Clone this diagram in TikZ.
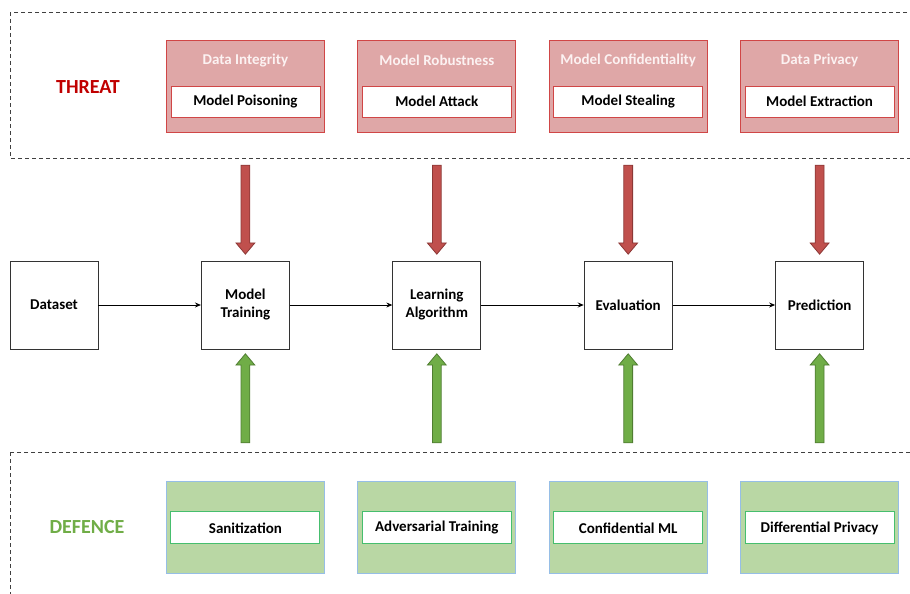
\documentclass[tikz,border=0pt]{standalone}
\usepackage{fontspec}
\setmainfont{Carlito}
\usepackage{tikz}
\usetikzlibrary{positioning, shapes.arrows, arrows.meta}

\definecolor{threatred}{RGB}{192,0,0}
\definecolor{threatfill}{RGB}{223,167,167}
\definecolor{threatline}{RGB}{208,70,70}
\definecolor{threathead}{RGB}{252,242,242}
\definecolor{arrowred}{RGB}{192,80,77}
\definecolor{arrowredline}{RGB}{140,56,54}
\definecolor{defgreen}{RGB}{112,173,71}
\definecolor{deffill}{RGB}{185,215,164}
\definecolor{defline}{RGB}{150,190,230}
\definecolor{definline}{RGB}{70,190,110}
\definecolor{arrowgreenline}{RGB}{80,125,50}

\tikzset{
  x=1pt, y=1pt,
  node distance=102.5pt,
  every node/.style={font=\fontsize{15}{18}\selectfont\bfseries},
  stage/.style={draw=black!80, line width=0.9pt, minimum width=88pt, minimum height=88pt, align=center},
  flow/.style={-{Stealth[length=6pt,width=5pt]}, line width=0.9pt},
  zone/.style={draw=black!75, line width=0.8pt, dash pattern=on 4pt off 3pt},
  title/.style={font=\fontsize{20}{22}\selectfont\bfseries},
  threatbox/.style={draw=threatline, fill=threatfill, line width=0.9pt, minimum width=158pt, minimum height=92pt},
  threatinner/.style={draw=threatline, fill=white, line width=0.8pt, minimum width=149pt, minimum height=31pt},
  defbox/.style={draw=defline, fill=deffill, line width=0.9pt, minimum width=158pt, minimum height=92pt},
  definner/.style={draw=definline, fill=white, line width=0.9pt, minimum width=149pt, minimum height=32pt},
  blockarrow/.style={single arrow, inner sep=4pt, single arrow head extend=5pt, single arrow tip angle=80, minimum height=89pt, line width=0.8pt},
  attackarrow/.style={blockarrow, draw=arrowredline, fill=arrowred, shape border rotate=270},
  defendarrow/.style={blockarrow, draw=arrowgreenline, fill=defgreen, shape border rotate=90},
}

\begin{document}
\begin{tikzpicture}
  \useasboundingbox (0,0) rectangle (910,-594);

  % zones
  \draw[zone] (10,-12) rectangle (925,-158);
  \draw[zone] (10,-452) rectangle (925,-610);
  \node[title, text=threatred] (threat) at (88,-87) {THREAT};
  \node[title, text=defgreen] (defence) at (87,-527) {DEFENCE};

  % pipeline
  \node[stage] (ds) at (54,-305) {Dataset};
  \node[stage, right=of ds] (mt) {Model\\Training};
  \node[stage, right=of mt] (la) {Learning\\Algorithm};
  \node[stage, right=of la] (ev) {Evaluation};
  \node[stage, right=of ev] (pr) {Prediction};

  \draw[flow] (ds) -- (mt);
  \draw[flow] (mt) -- (la);
  \draw[flow] (la) -- (ev);
  \draw[flow] (ev) -- (pr);

  % threats
  \node[threatbox, above=128pt of mt] (t1) {};
  \node[threatbox, above=128pt of la] (t2) {};
  \node[threatbox, above=128pt of ev] (t3) {};
  \node[threatbox, above=128pt of pr] (t4) {};
  \node[text=threathead] (th1) at ([yshift=-21pt]t1.north) {Data Integrity};
  \node[text=threathead] (th2) at ([yshift=-21pt]t2.north) {Model Robustness};
  \node[text=threathead] (th3) at ([yshift=-21pt]t3.north) {Model Confidentiality};
  \node[text=threathead] (th4) at ([yshift=-21pt]t4.north) {Data Privacy};
  \node[threatinner] (ti1) at ([yshift=-15.5pt]t1.center) {Model Poisoning};
  \node[threatinner] (ti2) at ([yshift=-15.5pt]t2.center) {Model Attack};
  \node[threatinner] (ti3) at ([yshift=-15.5pt]t3.center) {Model Stealing};
  \node[threatinner] (ti4) at ([yshift=-15.5pt]t4.center) {Model Extraction};

  % defences
  \node[defbox, below=132pt of mt] (d1) {};
  \node[defbox, below=132pt of la] (d2) {};
  \node[defbox, below=132pt of ev] (d3) {};
  \node[defbox, below=132pt of pr] (d4) {};
  \node[definner] (di1) at (d1.center) {Sanitization};
  \node[definner] (di2) at (d2.center) {Adversarial Training};
  \node[definner] (di3) at (d3.center) {Confidential ML};
  \node[definner] (di4) at (d4.center) {Differential Privacy};

  % block arrows
  \node[attackarrow] (a1) at ([yshift=-74.5pt]t1.south) {};
  \node[attackarrow] (a2) at ([yshift=-74.5pt]t2.south) {};
  \node[attackarrow] (a3) at ([yshift=-74.5pt]t3.south) {};
  \node[attackarrow] (a4) at ([yshift=-74.5pt]t4.south) {};
  \node[defendarrow] (g1) at ([yshift=80.5pt]d1.north) {};
  \node[defendarrow] (g2) at ([yshift=80.5pt]d2.north) {};
  \node[defendarrow] (g3) at ([yshift=80.5pt]d3.north) {};
  \node[defendarrow] (g4) at ([yshift=80.5pt]d4.north) {};
\end{tikzpicture}
\end{document}
